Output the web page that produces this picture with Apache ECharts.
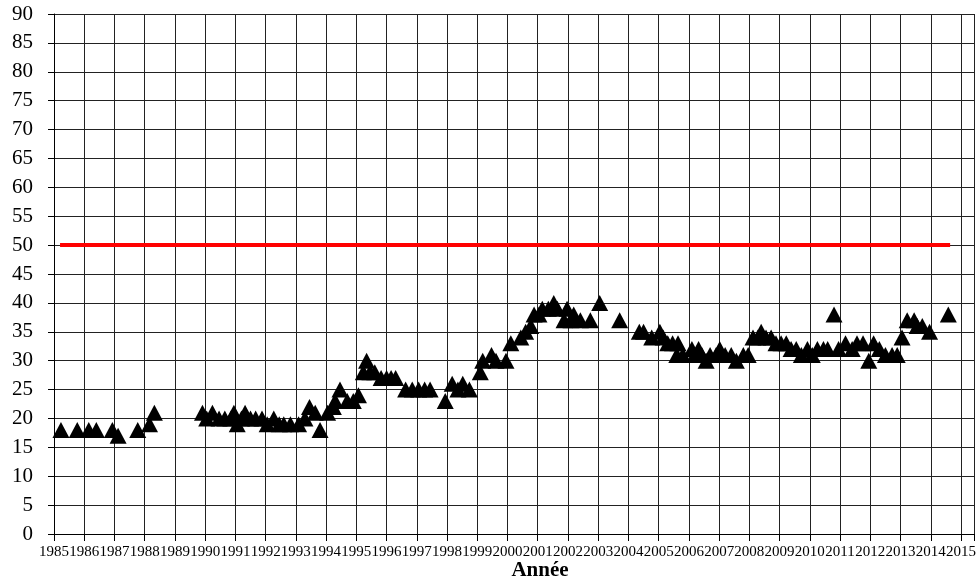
<!DOCTYPE html>
<html>
<head>
<meta charset="utf-8">
<script src="https://cdn.jsdelivr.net/npm/echarts@6/dist/echarts.min.js"></script>
<style>
html,body{margin:0;padding:0;background:#fff;}
#chart{width:979px;height:582px;}
</style>
</head>
<body>
<div id="chart"></div>
<script>
// Observation times (decimal year) and measured values
const years = [
1985.23,1985.77,1986.15,1986.40,1986.93,1987.12,1987.77,1988.16,1988.32,
1989.91,1990.05,1990.24,1990.46,1990.65,1990.85,1990.95,1991.06,1991.20,1991.32,1991.50,1991.67,1991.88,
1992.05,1992.27,1992.45,1992.60,1992.82,1993.09,1993.30,1993.45,1993.64,1993.80,
1994.05,1994.24,1994.30,1994.46,1994.70,1994.90,1995.07,1995.23,1995.34,1995.45,1995.61,1995.82,
1996.00,1996.15,1996.30,1996.63,1996.85,1997.06,1997.26,1997.44,1997.94,1998.17,1998.36,1998.52,1998.74,
1999.10,1999.18,1999.47,1999.62,1999.95,2000.11,2000.44,2000.60,2000.77,2000.88,2001.04,2001.15,2001.35,
2001.53,2001.65,2001.87,2001.97,2002.10,2002.19,2002.41,2002.74,2003.05,2003.71,
2004.36,2004.50,2004.77,2005.04,2005.15,2005.30,2005.46,2005.60,2005.64,2005.80,
2006.10,2006.20,2006.32,2006.43,2006.57,2006.70,2006.90,2007.02,2007.20,2007.40,2007.57,2007.80,2007.96,
2008.12,2008.28,2008.39,2008.55,2008.72,2008.88,2009.05,2009.22,2009.38,2009.55,2009.72,2009.92,
2010.08,2010.25,2010.45,2010.59,2010.80,2010.95,2011.18,2011.40,2011.56,2011.76,2011.95,
2012.11,2012.30,2012.50,2012.72,2012.89,2013.05,2013.22,2013.45,2013.55,2013.72,2013.96,2014.58
];
const values = [
18,18,18,18,18,17,18,19,21,
21,20,21,20,20,20,21,19,20,21,20,20,20,
19,20,19,19,19,19,20,22,21,18,
21,22,23,25,23,23,24,28,30,28,28,27,
27,27,27,25,25,25,25,25,23,26,25,26,25,
28,30,31,30,30,33,34,35,36,38,38,39,39,
40,39,37,39,37,38,37,37,40,37,
35,35,34,35,34,33,33,31,33,31,
32,31,32,31,30,31,31,32,31,31,30,31,31,
34,34,35,34,34,33,33,33,32,32,31,32,
31,32,32,32,38,32,33,32,33,33,30,
33,32,31,31,31,34,37,37,36,36,35,38
];
// Reference threshold line
const limitYears = [1985.2, 2014.64];
const limitValue = 50;
const yTicks = {min: 0, max: 90, step: 5};
const xTicks = {min: 1985, max: 2015.43, step: 1};
const xTitle = 'Année';

const points = years.map((y, i) => [y, values[i]]);
const limitLine = limitYears.map(y => [y, limitValue]);

const chart = echarts.init(document.getElementById('chart'), null, {renderer: 'canvas'});
const serif = "'Liberation Serif', 'Times New Roman', serif";
chart.setOption({
  animation: false,
  backgroundColor: '#ffffff',
  grid: {left: 54, right: 0, top: 14, bottom: 48, containLabel: false},
  xAxis: {
    type: 'value',
    min: xTicks.min, max: xTicks.max, interval: xTicks.step,
    axisLine: {show: true, onZero: false, lineStyle: {color: '#000', width: 1}},
    axisTick: {show: true, length: 7, lineStyle: {color: '#000'}},
    splitLine: {show: true, lineStyle: {color: '#222', width: 1}},
    axisLabel: {
      color: '#000', fontFamily: serif, fontSize: 15, margin: 11,
      showMinLabel: true, showMaxLabel: true, hideOverlap: false,
      formatter: v => Math.abs(v - Math.round(v)) < 1e-6 ? String(Math.round(v)) : ''
    }
  },
  yAxis: {
    type: 'value',
    min: yTicks.min, max: yTicks.max, interval: yTicks.step,
    axisLine: {show: true, lineStyle: {color: '#000', width: 1}},
    axisTick: {show: true, length: 6, lineStyle: {color: '#000'}},
    splitLine: {show: true, lineStyle: {color: '#222', width: 1}},
    axisLabel: {color: '#000', fontFamily: serif, fontSize: 21, margin: 21, showMinLabel: true, showMaxLabel: true}
  },
  graphic: [{
    type: 'text', x: 540, y: 571,
    style: {text: xTitle, fill: '#000', font: "bold 21px 'Liberation Serif', serif", textAlign: 'center', textVerticalAlign: 'middle'}
  }],
  series: [
    {
      type: 'line', data: limitLine, showSymbol: false, symbol: 'none',
      lineStyle: {color: '#ff0000', width: 4}, z: 3, silent: true
    },
    {
      type: 'scatter', data: points, symbol: 'triangle', symbolSize: [17, 16],
      itemStyle: {color: '#000', opacity: 1}, z: 4
    }
  ]
});
</script>
</body>
</html>
